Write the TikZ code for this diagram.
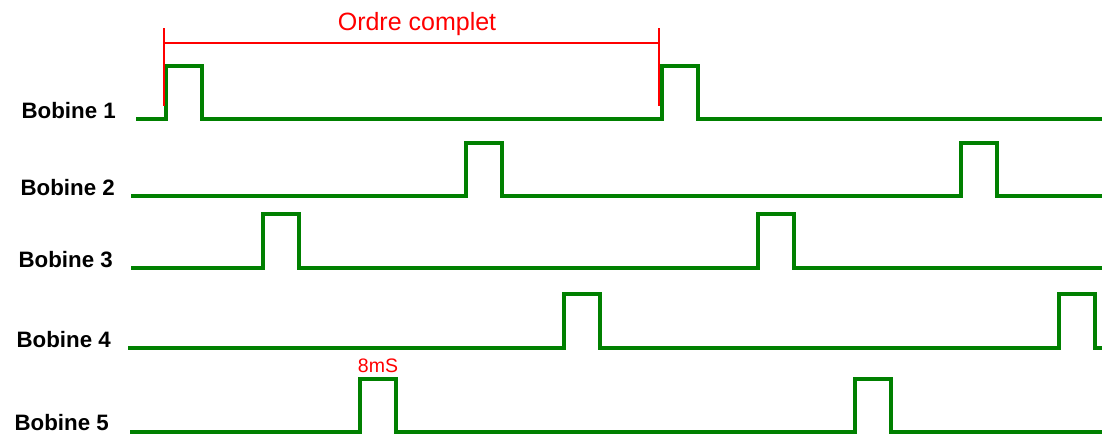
\documentclass[tikz,border=0pt]{standalone}
\usepackage{fontspec}
\setmainfont{Liberation Sans}
\begin{document}
\begin{tikzpicture}[x=1pt,y=-1pt,
  wave/.style={draw=sig,line width=3.6pt,line join=miter},
  marker/.style={draw=red,line width=1.8pt},
  coil/.style={font=\fontsize{22.3}{24}\selectfont\bfseries,anchor=base east,inner sep=0pt},
  redlabel/.style={text=red,inner sep=0pt}]
\definecolor{sig}{RGB}{0,128,0}
\useasboundingbox (0,0) rectangle (1102,434);
\fill[white] (0,0) rectangle (1102,434);
% labels
\node[coil] (b1) at (116,118) {Bobine 1};
\node[coil] (b2) at (115,195) {Bobine 2};
\node[coil] (b3) at (113,267) {Bobine 3};
\node[coil] (b4) at (111,347) {Bobine 4};
\node[coil] (b5) at (109,430) {Bobine 5};
% start coordinates
\coordinate (s1) at (136,119);
\coordinate (s2) at (131,196);
\coordinate (s3) at (131,268);
\coordinate (s4) at (128,348);
\coordinate (s5) at (130,432);
% waveforms
\draw[wave] (s1) -- (166,119) -- (166,66) -- (202,66) -- (202,119) -- (662,119) -- (662,66) -- (698,66) -- (698,119) -- (1102,119);
\draw[wave] (s2) -- (466,196) -- (466,143) -- (502,143) -- (502,196) -- (961,196) -- (961,143) -- (997,143) -- (997,196) -- (1102,196);
\draw[wave] (s3) -- (263,268) -- (263,214) -- (299,214) -- (299,268) -- (758,268) -- (758,214) -- (794,214) -- (794,268) -- (1102,268);
\draw[wave] (s4) -- (564,348) -- (564,294) -- (600,294) -- (600,348) -- (1059,348) -- (1059,294) -- (1095,294) -- (1095,348) -- (1102,348);
\draw[wave] (s5) -- (360,432) -- (360,379) -- (396,379) -- (396,432) -- (855,432) -- (855,379) -- (891,379) -- (891,432) -- (1102,432);
% red marker
\coordinate (ml) at (164,43);
\coordinate (mr) at (659,43);
\draw[marker] (164,28) -- (164,106);
\draw[marker] (659,28) -- (659,106);
\draw[marker] (ml) -- (mr);
\node[redlabel,font=\fontsize{25}{27}\selectfont] (oc) at (417,24) {Ordre complet};
\node[redlabel,font=\fontsize{19.5}{22}\selectfont] (t8) at (378,366) {8mS};
\end{tikzpicture}
\end{document}
